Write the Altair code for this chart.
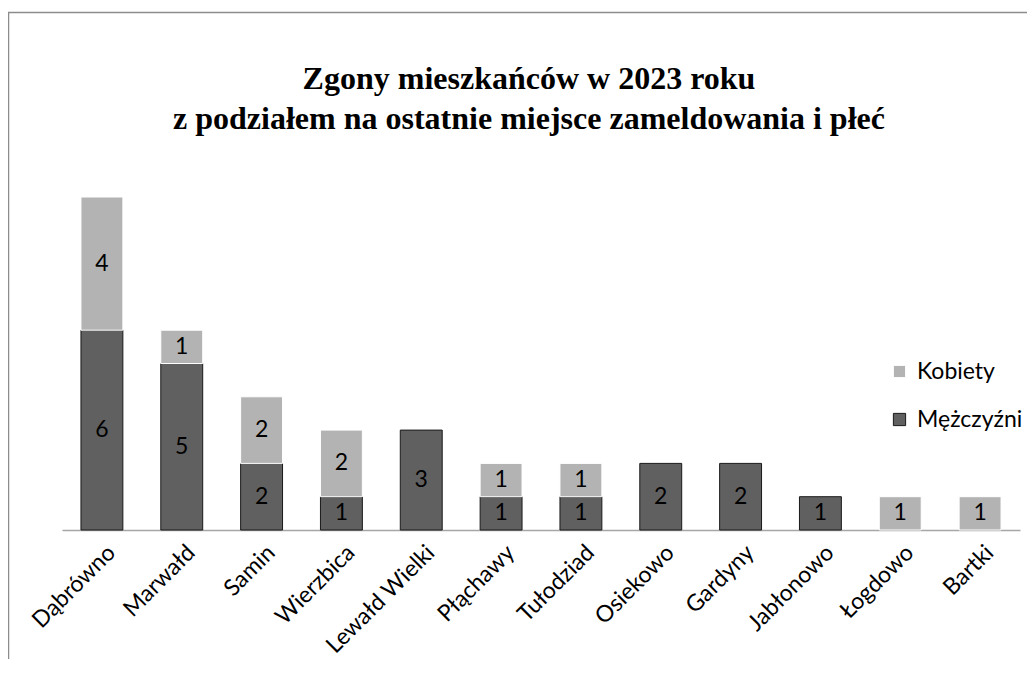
import altair as alt
import pandas as pd

places = ["Dąbrówno", "Marwałd", "Samin", "Wierzbica", "Lewałd Wielki", "Płąchawy",
          "Tułodziad", "Osiekowo", "Gardyny", "Jabłonowo", "Łogdowo", "Bartki"]
men = [6, 5, 2, 1, 3, 1, 1, 2, 2, 1, 0, 0]
women = [4, 1, 2, 2, 0, 1, 1, 0, 0, 0, 1, 1]
sexes = ["Kobiety", "Mężczyźni"]
fills = ["#b3b3b3", "#606060"]
strokes = ["#ffffff", "#1a1a1a"]

rows = []
for p, m, w in zip(places, men, women):
    rows.append({"place": p, "sex": "Mężczyźni", "value": m, "ord": 0})
    rows.append({"place": p, "sex": "Kobiety", "value": w, "ord": 1})
df = pd.DataFrame(rows)

W, H = 958, 333
FONT = "Lato"

base = (
    alt.Chart(df)
    .transform_filter("datum.value > 0")
    .transform_stack(stack="value", groupby=["place"], as_=["v0", "v1"],
                     sort=[alt.SortField("ord", order="ascending")])
    .transform_calculate(mid="(datum.v0 + datum.v1) / 2")
)

xenc = alt.X("place:N", sort=places, title=None,
             scale=alt.Scale(paddingInner=0.475, paddingOuter=0.2375),
             axis=alt.Axis(labelAngle=-45, labelFont=FONT, labelFontSize=23,
                           labelColor="#000000", ticks=False, domainColor="#a6a6a6",
                           domainWidth=1.5, labelPadding=11, labelOffset=2,
                           labelAlign="right", labelBaseline="top"))

legend = alt.Legend(title=None, orient="none", legendX=826, legendY=163,
                    symbolType="square", symbolSize=150, symbolStrokeWidth=1,
                    labelFont=FONT, labelFontSize=23, labelColor="#000000",
                    rowPadding=24, labelOffset=6)

bars = base.mark_bar(strokeWidth=1).encode(
    x=xenc,
    y=alt.Y("v0:Q", scale=alt.Scale(domain=[0, 10]), axis=None),
    y2="v1:Q",
    color=alt.Color("sex:N", scale=alt.Scale(domain=sexes, range=fills), legend=legend),
    stroke=alt.Stroke("sex:N", scale=alt.Scale(domain=sexes, range=strokes), legend=legend),
)

labels = base.mark_text(font=FONT, fontSize=23, color="#000000", baseline="middle").encode(
    x=alt.X("place:N", sort=places),
    y=alt.Y("mid:Q", scale=alt.Scale(domain=[0, 10])),
    text="value:Q",
)

frame = alt.Chart(alt.Data(values=[{"a": 1}])).mark_rect(
    fill="transparent", stroke="#8c8c8c", strokeWidth=1.5
).encode(
    x=alt.value(-53.5), x2=alt.value(W + 40),
    y=alt.value(-184.5), y2=alt.value(H + 200),
)

chart = (
    alt.layer(frame, bars, labels)
    .properties(
        width=W, height=H,
        autosize=alt.AutoSizeParams(type="none"),
        padding={"left": 54, "top": 189, "right": 7, "bottom": 129},
        title=alt.Title(
            ["Zgony mieszkańców w 2023 roku",
             "z podziałem na ostatnie miejsce zameldowania i płeć"],
            font="Liberation Serif", fontSize=32, fontWeight="bold", color="#000000",
            anchor="middle", offset=-124, dx=-12, lineHeight=40,
        ),
    )
    .configure_view(stroke=None)
)

chart.save("out.html", embed_options={"renderer": "svg", "actions": False})
